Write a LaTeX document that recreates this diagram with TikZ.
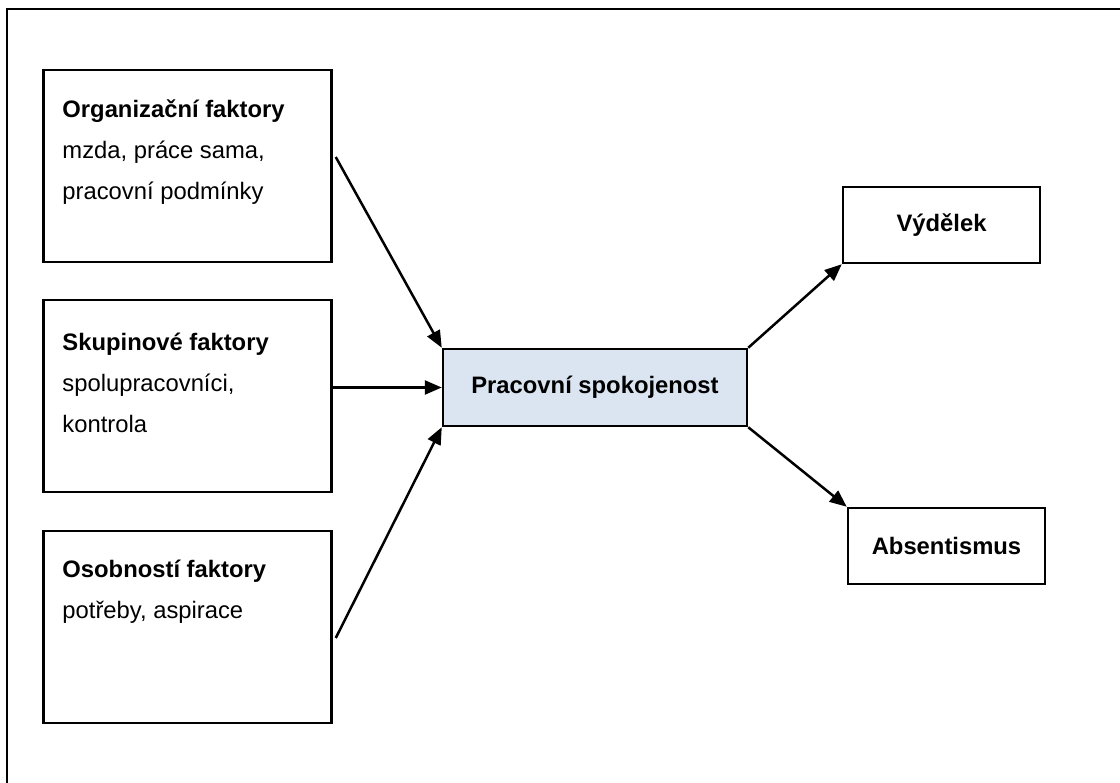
\documentclass[tikz,border=0pt]{standalone}
\usepackage{fontspec}
\setmainfont{Liberation Sans}
\usetikzlibrary{arrows.meta}
\definecolor{centerfill}{HTML}{DBE5F1}
\tikzset{
  box/.style={draw=black, line width=2.5pt, fill=white, inner sep=0pt},
  factorbox/.style={box, minimum width=288pt, minimum height=192pt},
  resultbox/.style={box, minimum width=197pt, minimum height=76pt, font=\fontsize{23.8}{28}\selectfont\bfseries},
  centerbox/.style={box, fill=centerfill, minimum width=304pt, minimum height=77pt, font=\fontsize{23.8}{28}\selectfont\bfseries},
  ftext/.style={anchor=base west, align=left, inner sep=0pt, font=\fontsize{23.8}{41}\selectfont},
  conn/.style={line width=2.5pt, -{Triangle[length=17pt,width=14pt]}},
  frame/.style={line width=2.5pt}
}
\begin{document}
\begin{tikzpicture}[x=1pt,y=-1pt]
\useasboundingbox (0,0) rectangle (1120,783);
\coordinate (ftr) at (1120,9);
\coordinate (ftl) at (7,9);
\coordinate (fbl) at (7,783);
\draw[frame] (ftr) -- (ftl) -- (fbl);

\node[factorbox] (b1) at (187.5,166) {};
\node[factorbox] (b2) at (187.5,396) {};
\node[factorbox] (b3) at (187.5,627) {};
% base anchor = baseline of the last line
\node[ftext] (t1) at ([shift={(20,131)}]b1.north west) {\textbf{Organizační faktory}\\mzda, práce sama,\\pracovní podmínky};
\node[ftext] (t2) at ([shift={(20,134)}]b2.north west) {\textbf{Skupinové faktory}\\spolupracovníci,\\kontrola};
\node[ftext] (t3) at ([shift={(20,89)}]b3.north west) {\textbf{Osobností faktory}\\potřeby, aspirace};

\node[centerbox] (c) at (595,387.5) {Pracovní spokojenost};
\node[resultbox] (v) at (941.5,225) {Výdělek};
\node[resultbox] (a) at (946.5,546) {Absentismus};

\draw[conn] ([shift={(3,-9)}]b1.east) -- (c.north west);
\draw[conn] (c.west -| b2.east) -- (c.west);
\draw[conn] ([shift={(3,11)}]b3.east) -- (c.south west);
\draw[conn] (c.north east) -- (v.south west);
\draw[conn] (c.south east) -- (a.north west);
\end{tikzpicture}
\end{document}
